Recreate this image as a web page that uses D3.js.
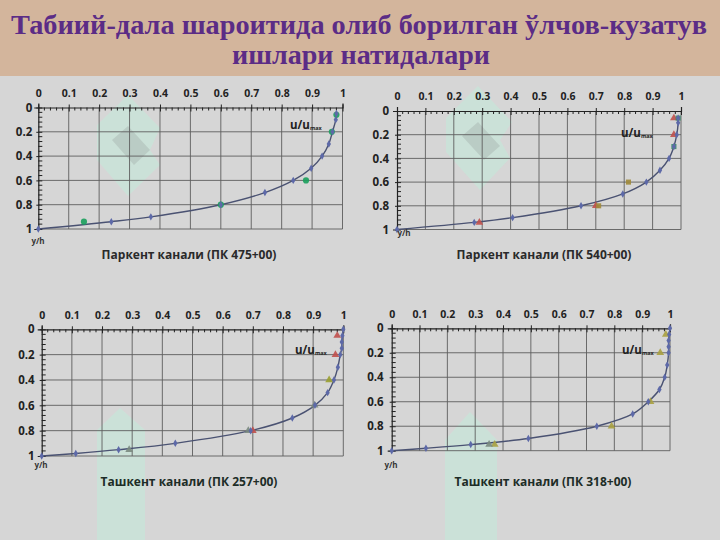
<!DOCTYPE html>
<html><head><meta charset="utf-8">
<script src="https://cdn.jsdelivr.net/npm/d3@7"></script>
<style>
body{margin:0;background:#d5d5d5;}
svg{display:block;}
</style></head>
<body>
<svg id="c" width="720" height="540"></svg>
<script>
// ---- data ----
const titleLines = ["Табиий-дала шароитида олиб борилган ўлчов-кузатув", "ишлари натидалари"];
const chartTitles = ["Паркент канали (ПК 475+00)", "Паркент канали  (ПК 540+00)", "Ташкент канали  (ПК 257+00)", "Ташкент канали (ПК 318+00)"];
const xTicks = [0,0.1,0.2,0.3,0.4,0.5,0.6,0.7,0.8,0.9,1];
const yTicks = [0,0.2,0.4,0.6,0.8,1];
const xTickLabels = ["0","0.1","0.2","0.3","0.4","0.5","0.6","0.7","0.8","0.9","1"];
const yTickLabels = ["0","0.2","0.4","0.6","0.8","1"];

// main profile series [u/umax, y/h]
const main1 = [[0,1],[0.24,0.94],[0.37,0.9],[0.6,0.8],[0.745,0.7],[0.838,0.6],[0.897,0.5],[0.933,0.4],[0.955,0.3],[0.967,0.2],[0.978,0.1],[0.98,0.05]];
const main2 = [[0,1],[0.272,0.94],[0.407,0.9],[0.648,0.8],[0.795,0.7],[0.878,0.6],[0.926,0.5],[0.958,0.4],[0.975,0.3],[0.985,0.2],[0.99,0.1],[0.99,0.06]];
const main3 = [[0,1],[0.113,0.98],[0.255,0.95],[0.443,0.9],[0.693,0.8],[0.831,0.7],[0.906,0.6],[0.948,0.5],[0.969,0.4],[0.982,0.3],[0.99,0.2],[0.995,0.15],[0.995,0.1],[0.997,0.05],[1,0]];
const main4 = [[0,1],[0.123,0.98],[0.284,0.95],[0.491,0.9],[0.737,0.8],[0.866,0.7],[0.922,0.6],[0.962,0.5],[0.981,0.4],[0.99,0.3],[0.995,0.2],[0.995,0.15],[0.995,0.1],[0.997,0.05],[1,0]];

// measured points
const green1 = [[0.15,0.94],[0.6,0.8],[0.88,0.6],[0.965,0.2],[0.98,0.06]];
const red2 = [[0.975,0.06],[0.975,0.2],[0.70,0.8],[0.29,0.94]];
const olive2 = [[0.815,0.6],[0.71,0.8]];
const green2 = [[0.99,0.06],[0.975,0.3]];
const red3 = [[0.98,0.05],[0.974,0.2],[0.70,0.8]];
const olive3 = [[0.953,0.4]];
const gray3 = [[0.29,0.95],[0.905,0.6],[0.685,0.8]];
const olive4 = [[0.985,0.05],[0.965,0.2],[0.79,0.8],[0.37,0.95],[0.93,0.6]];
const gray4 = [[0.35,0.95]];

const svg = d3.select("#c");

// background
svg.append("rect").attr("width",720).attr("height",540).attr("fill","#d6d6d6");
svg.append("rect").attr("width",720).attr("height",76).attr("fill","#d3b59c");

// faint watermark shapes
const wm = svg.append("g").attr("opacity",0.45);
const mint = "#bff0dc";
[
 [[97,125],[128,95],[160,128],[150,150],[160,165],[128,196],[97,160]],
 [[446,118],[478,86],[512,122],[500,140],[510,158],[480,190],[446,152]],
 [[97,430],[120,408],[145,430],[145,540],[97,540]],
 [[445,440],[470,412],[497,440],[497,540],[445,540]]
].forEach(p=>wm.append("path").attr("d",d3.line()(p)+"Z").attr("fill",mint));
const wg = svg.append("g").attr("opacity",0.18);
[[[112,140],[128,126],[150,150],[134,165]],[[462,136],[478,122],[500,146],[484,160]]]
 .forEach(p=>wg.append("path").attr("d",d3.line()(p)+"Z").attr("fill","#707070"));

// title
svg.append("text").attr("x",359).attr("y",34).attr("text-anchor","middle")
  .attr("font-family","'Liberation Serif', serif").attr("font-weight","bold")
  .attr("font-size",27).attr("fill","#5b2c86")
  .attr("textLength",696).attr("lengthAdjust","spacingAndGlyphs").text(titleLines[0]);
svg.append("text").attr("x",361).attr("y",64).attr("text-anchor","middle")
  .attr("font-family","'Liberation Serif', serif").attr("font-weight","bold")
  .attr("font-size",27).attr("fill","#5b2c86")
  .attr("textLength",258).attr("lengthAdjust","spacingAndGlyphs").text(titleLines[1]);

const charts = [
 {x0:38.3,x1:342.5,y0:107.5,y1:229,lx:6,main:main1,title:chartTitles[0],tx:189,ty:259,tcol:"#2a2a2a",
  um:[290,129], yh:[38,244],
  extra:[{d:green1,sym:d3.symbolCircle,size:30,col:"#19a05c"}]},
 {x0:397,x1:681,y0:111,y1:229.5,lx:8,main:main2,title:chartTitles[1],tx:544,ty:259,tcol:"#2a2a2a",
  um:[621,137], yh:[404,236],
  extra:[{d:red2,sym:d3.symbolTriangle,size:26,col:"#c0504d"},{d:olive2,sym:d3.symbolSquare,size:26,col:"#a08a3a"},{d:green2,sym:d3.symbolSquare,size:26,col:"#3a8a6a"}]},
 {x0:41.7,x1:343.3,y0:329.3,y1:456,lx:7,main:main3,title:chartTitles[2],tx:189,ty:486,tcol:"#1d2d27",
  um:[295,354], yh:[41,468],
  extra:[{d:red3,sym:d3.symbolTriangle,size:26,col:"#c0504d"},{d:olive3,sym:d3.symbolTriangle,size:26,col:"#9aa030"},{d:gray3,sym:d3.symbolTriangle,size:26,col:"#7a8a80"}]},
 {x0:391.7,x1:670,y0:328.3,y1:450.7,lx:8,main:main4,title:chartTitles[3],tx:543,ty:486,tcol:"#1d2d27",
  um:[622,354], yh:[391,468],
  extra:[{d:olive4,sym:d3.symbolTriangle,size:26,col:"#a9a040"},{d:gray4,sym:d3.symbolTriangle,size:26,col:"#7a8a80"}]}
];

const tickFont = "'Open Sans', sans-serif";

charts.forEach(c=>{
  const x = d3.scaleLinear().domain([0,1]).range([c.x0,c.x1]);
  const y = d3.scaleLinear().domain([0,1]).range([c.y0,c.y1]);
  const g = svg.append("g");

  // grid
  g.selectAll(".vg").data(xTicks.slice(1)).join("line")
    .attr("x1",d=>x(d)).attr("x2",d=>x(d)).attr("y1",c.y0).attr("y2",c.y1)
    .attr("stroke","#5e5e5e").attr("stroke-width",0.9);
  g.selectAll(".hg").data(yTicks.slice(1)).join("line")
    .attr("x1",c.x0).attr("x2",c.x1).attr("y1",d=>y(d)).attr("y2",d=>y(d))
    .attr("stroke","#5e5e5e").attr("stroke-width",0.9);

  // top axis
  const ax = d3.axisTop(x).tickValues(xTicks).tickSize(4).tickFormat((d,i)=>xTickLabels[i]);
  const gx = g.append("g").attr("transform",`translate(0,${c.y0})`).call(ax);
  gx.select(".domain").attr("stroke","#222").attr("stroke-width",1.2);
  gx.selectAll(".tick line").attr("stroke","#222").attr("y2",4).attr("y1",-3);
  gx.selectAll(".tick text").attr("font-family",tickFont).attr("font-weight","bold")
    .attr("font-size",10.5).attr("fill","#222").attr("dy","0.32em").attr("y",-14);
  // minor x ticks
  g.selectAll(".mx").data(d3.range(1,50).map(i=>i*0.02).filter(v=>Math.abs(v*10-Math.round(v*10))>1e-6))
    .join("line").attr("x1",d=>x(d)).attr("x2",d=>x(d)).attr("y1",c.y0).attr("y2",c.y0+3)
    .attr("stroke","#222").attr("stroke-width",1);

  // left axis
  const ay = d3.axisLeft(y).tickValues(yTicks).tickSize(4).tickFormat((d,i)=>yTickLabels[i]);
  const gy = g.append("g").attr("transform",`translate(${c.x0},0)`).call(ay);
  gy.select(".domain").attr("stroke","#222").attr("stroke-width",1.2);
  gy.selectAll(".tick line").attr("stroke","#222").attr("x2",4).attr("x1",-2);
  gy.selectAll(".tick text").attr("font-family",tickFont).attr("font-weight","bold")
    .attr("font-size",11.5).attr("fill","#222").attr("x",-c.lx);
  g.selectAll(".my").data(d3.range(1,25).map(i=>i*0.04).filter(v=>Math.abs(v*5-Math.round(v*5))>1e-6))
    .join("line").attr("x1",c.x0).attr("x2",c.x0+4).attr("y1",d=>y(d)).attr("y2",d=>y(d))
    .attr("stroke","#222").attr("stroke-width",1);

  // curve
  const line = d3.line().x(d=>x(d[0])).y(d=>y(d[1])).curve(d3.curveCatmullRom.alpha(0.5));
  g.append("path").datum(c.main).attr("d",line).attr("fill","none")
    .attr("stroke","#4a5272").attr("stroke-width",1.4);

  // extra measured points
  c.extra.forEach(s=>{
    g.selectAll(null).data(s.d).join("path")
      .attr("transform",d=>`translate(${x(d[0])},${y(d[1])})`)
      .attr("d",d3.symbol().type(s.sym).size(s.size)).attr("fill",s.col).attr("opacity",0.9);
  });
  // main markers
  g.selectAll(null).data(c.main).join("path")
    .attr("transform",d=>`translate(${x(d[0])},${y(d[1])})`)
    .attr("d",d3.symbol().type(d3.symbolDiamond).size(16)).attr("fill","#5d69a8");

  // u/umax label
  const ut = g.append("text").attr("x",c.um[0]).attr("y",c.um[1])
    .attr("font-family",tickFont).attr("font-weight","bold").attr("font-size",11.5).attr("fill","#222");
  ut.append("tspan").text("u/u");
  ut.append("tspan").attr("font-size",5.5).attr("dy",1).text("max");

  // y/h
  g.append("text").attr("x",c.yh[0]).attr("y",c.yh[1]).attr("text-anchor","middle")
    .attr("font-family",tickFont).attr("font-weight","bold").attr("font-size",8).attr("fill","#333").text("y/h");

  // chart title
  g.append("text").attr("x",c.tx).attr("y",c.ty).attr("text-anchor","middle")
    .attr("font-family",tickFont).attr("font-weight","bold").attr("font-size",12).attr("fill",c.tcol).text(c.title);
});
</script>
</body></html>
